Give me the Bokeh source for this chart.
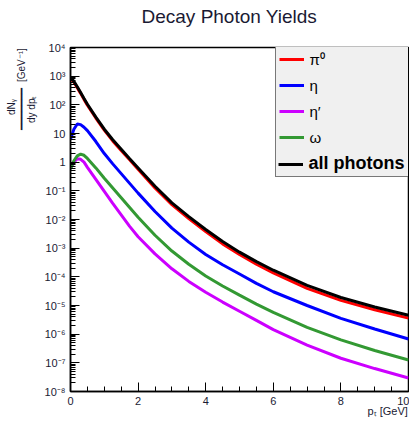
from bokeh.plotting import figure
from bokeh.models import Legend, LegendItem, FixedTicker, CustomJSTickFormatter, Range1d
from bokeh.embed import file_html
from bokeh.resources import INLINE

# ---- data (log10 of dN/dy dpT) ----
pt = [0.0, 0.1, 0.2, 0.3, 0.4, 0.5, 0.75, 1.0, 1.25, 1.5, 1.75, 2.0, 2.5, 3.0, 3.5,
      4.0, 4.5, 5.0, 5.5, 6.0, 7.0, 8.0, 9.0, 10.0]
log_all = [2.95, 2.82, 2.63, 2.43, 2.22, 2.02, 1.57, 1.15, 0.78, 0.45, 0.12, -0.20,
           -0.84, -1.42, -1.90, -2.35, -2.77, -3.14, -3.47, -3.77, -4.30, -4.72,
           -5.05, -5.34]
log_pi0 = [2.92, 2.79, 2.60, 2.40, 2.19, 1.99, 1.54, 1.12, 0.74, 0.41, 0.08, -0.25,
           -0.90, -1.48, -1.97, -2.42, -2.85, -3.22, -3.56, -3.86, -4.40, -4.82,
           -5.15, -5.44]
log_eta = [0.80, 1.15, 1.33, 1.31, 1.22, 1.10, 0.72, 0.30, -0.06, -0.40, -0.74, -1.08,
           -1.72, -2.30, -2.79, -3.22, -3.58, -3.90, -4.23, -4.52, -5.00, -5.45,
           -5.82, -6.17]
log_etaprime = [-0.20, 0.00, 0.12, 0.10, 0.00, -0.18, -0.60, -1.02, -1.44, -1.84,
                -2.24, -2.60, -3.20, -3.72, -4.16, -4.54, -4.88, -5.20, -5.52, -5.84,
                -6.38, -6.84, -7.20, -7.53]
log_omega = [-0.24, 0.05, 0.22, 0.28, 0.24, 0.13, -0.20, -0.56, -0.90, -1.24, -1.58,
             -1.92, -2.55, -3.10, -3.56, -3.97, -4.32, -4.64, -4.95, -5.24, -5.76,
             -6.20, -6.57, -6.90]

x_ticks = [0, 2, 4, 6, 8, 10]
y_exponents = list(range(-8, 5))
legend_labels = ["π⁰", "η", "η′", "ω", "all photons"]
title_text = "Decay Photon Yields"
NB = "\u00a0"
# axis titles are pushed toward the axis end with non-breaking spaces
x_label = NB * 97 + "pₜ [GeV]"
y_label = "\n".join([
    NB * 94 + NB * 5 + "dNᵧ" + NB * 18,
    NB * 94 + "━" * 7 + NB * 2 + "[GeV⁻¹]",
    NB * 94 + NB * 2 + "dy dpₜ" + NB * 17,
])

FONT = "Liberation Sans"
TXT = "#1a1a33"

p = figure(width=409, height=422, x_range=Range1d(0, 10), y_range=Range1d(1e-8, 1e4),
           y_axis_type="log", output_backend="svg", toolbar_location=None,
           min_border_left=70, min_border_right=1, min_border_top=47,
           min_border_bottom=31, background_fill_color="white",
           border_fill_color="white")
p.xgrid.visible = False
p.ygrid.visible = False
p.outline_line_color = "black"
p.outline_line_width = 1.5

# title (second, empty line lifts it toward the top of the page)
p.title.text = title_text + "\n" + NB
p.title.align = "left"
p.title.offset = 71
p.title.vertical_align = "bottom"
p.title.standoff = 0
p.title.text_font = FONT
p.title.text_font_size = "19px"
p.title.text_font_style = "normal"
p.title.text_color = TXT

# ticks
p.xaxis.ticker = FixedTicker(ticks=x_ticks,
                             minor_ticks=[i * 0.5 for i in range(0, 21)])
y_major = [10.0 ** e for e in y_exponents]
y_minor = [k * 10.0 ** e for e in y_exponents[:-1] for k in range(2, 10)]
p.yaxis.ticker = FixedTicker(ticks=y_major, minor_ticks=y_minor)
p.yaxis.formatter = CustomJSTickFormatter(code="""
const e = Math.round(Math.log10(tick));
if (e == 0) return "1";
if (e == 1) return "10";
const sup = {"-":"\u207b","0":"\u2070","1":"\u00b9","2":"\u00b2","3":"\u00b3","4":"\u2074",
             "5":"\u2075","6":"\u2076","7":"\u2077","8":"\u2078","9":"\u2079"};
return "10" + String(e).split("").map(c => sup[c]).join("");
""")

for ax in (p.xaxis[0], p.yaxis[0]):
    ax.major_tick_in = 9
    ax.major_tick_out = 0
    ax.minor_tick_in = 5
    ax.minor_tick_out = 0
    ax.axis_line_color = "black"
    ax.axis_line_width = 1.5
    ax.major_tick_line_color = "black"
    ax.minor_tick_line_color = "black"
    ax.major_label_text_font = FONT
    ax.major_label_text_font_size = "11px"
    ax.major_label_text_color = TXT
    ax.major_label_standoff = 5
    ax.axis_label_text_font = FONT
    ax.axis_label_text_font_style = "normal"
    ax.axis_label_text_color = TXT
    ax.axis_label_align = "center"

p.xaxis.axis_label = x_label
p.xaxis.axis_label_text_font_size = "11px"
p.xaxis.axis_label_standoff = -3
p.yaxis.axis_label = y_label
p.yaxis.axis_label_text_font_size = "10px"
p.yaxis.axis_label_text_line_height = 0.9
p.yaxis.axis_label_standoff = 5

# curves
colors = ["#ff0000", "#0000ff", "#cc00ff", "#339933", "#000000"]
series = [log_pi0, log_eta, log_etaprime, log_omega, log_all]
renderers = []
for ls, c in zip(series, colors):
    renderers.append(p.line(pt, [10.0 ** v for v in ls], line_color=c, line_width=3))

# legend (two legends so that "all photons" can be bold)
common = dict(glyph_width=25, glyph_height=20, label_height=20, label_standoff=6,
              label_width=120, margin=0, label_text_font=FONT,
              label_text_color="black",
              background_fill_color="#f0f0f0", background_fill_alpha=1.0)
itemsA = [LegendItem(label=l, renderers=[r])
          for l, r in zip(legend_labels[:4], renderers[:4])]
itemsA.append(LegendItem(label=NB, renderers=[renderers[4]]))
legA = Legend(items=itemsA, location=(204.5, 214), padding=3, spacing=6,
              border_line_color="black", border_line_width=1,
              label_text_font_size="15px", **common)
legB = Legend(items=[LegendItem(label=legend_labels[4], renderers=[renderers[4]])],
              location=(207.5, 217), padding=0, spacing=0, border_line_alpha=0,
              label_text_font_style="bold", label_text_font_size="18px", **common)
p.add_layout(legA)
p.add_layout(legB)

open("out.html", "w").write(file_html(p, INLINE))
